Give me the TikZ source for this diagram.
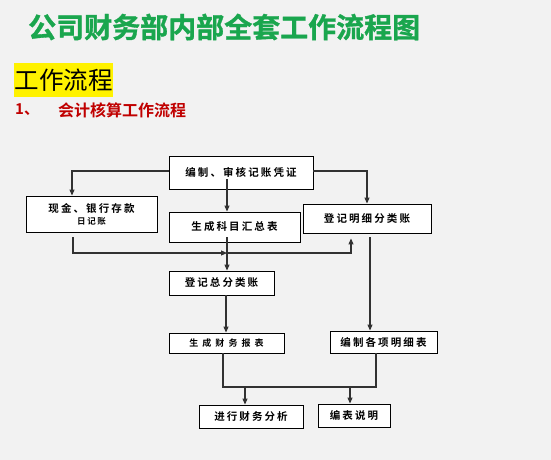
\documentclass[tikz,border=0pt]{standalone}
\usepackage{fontspec}
\setmainfont{Noto Sans CJK SC}
\newfontfamily\boxfont[LetterSpace=20]{Noto Sans CJK SC Bold}
\newfontfamily\headfont{Noto Sans CJK SC Bold}
\newfontfamily\titlefont[FakeBold=1.2]{Noto Sans CJK SC Bold}
\usetikzlibrary{arrows.meta,calc}
\definecolor{bggrey}{RGB}{242,242,242}
\definecolor{titlegreen}{RGB}{26,166,78}
\definecolor{darkred}{RGB}{192,0,0}
\definecolor{linegrey}{RGB}{50,50,50}
\begin{document}
\begin{tikzpicture}[x=1pt,y=-1pt,
  fbox/.style={draw=black,line width=0.9pt,fill=white,inner sep=0pt,
    font=\boxfont\fontsize{10.5}{12}\selectfont,align=center},
  conn/.style={draw=linegrey,line width=1.1pt},
  arr/.style={conn,-{Triangle[length=6pt,width=5pt]}}]
\fill[bggrey] (0,0) rectangle (551,460);
\useasboundingbox (0,0) rectangle (551,460);
% titles
\node[font=\titlefont\fontsize{28}{30}\selectfont,text=titlegreen,anchor=west,inner sep=0pt] (title) at (28,27) {公司财务部内部全套工作流程图};
\node[fill=yellow,minimum width=99pt,minimum height=34pt,inner sep=0pt,font=\fontsize{24.5}{26}\selectfont] (sub) at (63.5,80) {工作流程};
\node[font=\headfont\fontsize{15}{16}\selectfont,text=darkred,anchor=west,inner sep=0pt] (num) at (15,110) {1、};
\node[font=\headfont\fontsize{16}{17}\selectfont,text=darkred,anchor=west,inner sep=0pt] (sec) at (58,110) {会计核算工作流程};
% boxes
\node[fbox,minimum width=144pt,minimum height=33pt] (top) at (241,172.5) {编制、审核记账凭证};
\node[fbox,minimum width=131pt,minimum height=36pt] (cash) at (91.5,214) {现金、银行存款\\[0pt]{\fontsize{8.5}{10}\selectfont 日记账}};
\node[fbox,minimum width=131pt,minimum height=30pt] (sum) at (234.5,227) {生成科目汇总表};
\node[fbox,minimum width=128pt,minimum height=29pt] (det) at (367,218.5) {登记明细分类账};
\node[fbox,minimum width=105pt,minimum height=24pt] (gen) at (221.5,283) {登记总分类账};
\node[fbox,minimum width=115pt,minimum height=20pt] (rep) at (226.5,343) {{\fontsize{9}{10}\selectfont\addfontfeatures{LetterSpace=45}生成财务报表}};
\node[fbox,minimum width=107pt,minimum height=22pt] (items) at (383.5,342) {编制各项明细表};
\node[fbox,minimum width=104pt,minimum height=23pt] (ana) at (251,416.5) {进行财务分析};
\node[fbox,minimum width=72pt,minimum height=23pt] (note) at (354,415.5) {编表说明};
% helper coordinates
\coordinate (xl) at (72,0);
\coordinate (xc) at (227,0);
\coordinate (xr) at (351,0);
\coordinate (xd) at (370,0);
\coordinate (j) at (227,253);
\coordinate (k) at (223,387);
\coordinate (xa) at (245,0);
\coordinate (xn) at (350,0);
\coordinate (xi) at (376,0);
% connectors
\draw[arr] ([yshift=1.5pt]top.west) -| (cash.north -| xl);
\draw[arr] ([yshift=1.5pt]top.east) -| (det.north);
\draw[arr] ([yshift=10pt]top.south -| xc) -- (sum.north -| xc);
\draw[arr] ([yshift=5pt]sum.south -| xc) -- (gen.north -| xc);
\draw[arr] ([yshift=-5pt]cash.south -| 73,0) |- (j);
\draw[arr] (j) -| ([yshift=-5pt]det.south -| xr);
\draw[arr] (gen.south -| 226,0) -- (rep.north -| 226,0);
\draw[arr] ([yshift=-4pt]det.south -| xd) -- (items.north -| xd);
\draw[conn] (rep.south -| k) |- (k -| xi) -- (items.south -| xi);
\draw[arr] (k -| xa) -- (ana.north -| xa);
\draw[arr] (k -| xn) -- (note.north -| xn);
\end{tikzpicture}
\end{document}
